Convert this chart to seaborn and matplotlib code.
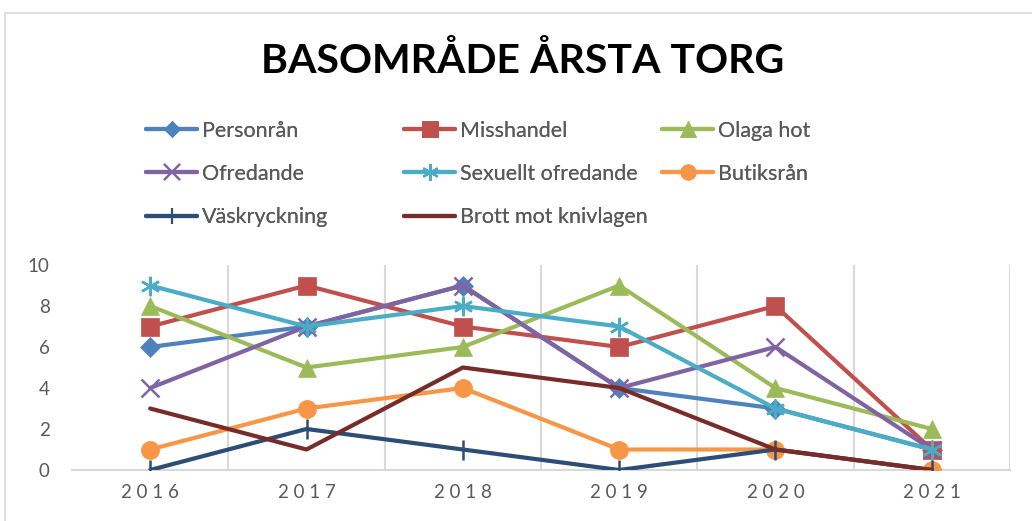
import matplotlib
matplotlib.use("Agg")
import matplotlib.pyplot as plt
from matplotlib.lines import Line2D
from matplotlib.patches import Rectangle
import numpy as np
import seaborn as sns

sns.set_style("white")
plt.rcParams["font.family"] = ["Lato", "DejaVu Sans"]

years = ["2016", "2017", "2018", "2019", "2020", "2021"]
series_names = ["Personrån", "Misshandel", "Olaga hot", "Ofredande",
                "Sexuellt ofredande", "Butiksrån", "Väskryckning",
                "Brott mot knivlagen"]
personran = [6, 7, 9, 4, 3, 1]
misshandel = [7, 9, 7, 6, 8, 1]
olaga_hot = [8, 5, 6, 9, 4, 2]
ofredande = [4, 7, 9, 4, 6, 1]
sex_ofredande = [9, 7, 8, 7, 3, 1]
butiksran = [1, 3, 4, 1, 1, 0]
vaskryckning = [0, 2, 1, 0, 1, 0]
knivlagen = [3, 1, 5, 4, 1, 0]
values = [personran, misshandel, olaga_hot, ofredande, sex_ofredande,
          butiksran, vaskryckning, knivlagen]

colors = ["#4F81BD", "#C0504D", "#9BBB59", "#8064A2", "#4BACC6",
          "#F79646", "#2C4D75", "#772C2A"]
markers = ["D", "s", "^", "x", (6, 2, 0), "o", "|", None]
msizes = [10, 13, 13, 13, 14, 13, 14, 0]
line_markers = ["x", "|", (6, 2, 0)]

fig = plt.figure(figsize=(10.32, 5.21), dpi=100)
fig.patches.append(Rectangle((5 / 1032, -0.1), 1.2, 1 - 13 / 521 + 0.1,
                             transform=fig.transFigure, fill=False,
                             edgecolor="#D9D9D9", linewidth=1.2))
ax = fig.add_axes([72 / 1032, 51 / 521, (1010 - 72) / 1032, (470 - 265) / 521])

x = np.arange(len(years))
handles = []
for name, vals, c, m, ms in zip(series_names, values, colors, markers, msizes):
    mew = 1.8 if m in line_markers else 0.5
    sns.lineplot(x=x, y=vals, ax=ax, color=c, linewidth=3.0, marker=m,
                 markersize=ms, markeredgewidth=mew,
                 markeredgecolor=c, zorder=3)
    handles.append(Line2D([], [], color=c, linewidth=3.0, marker=m,
                          markersize=ms * 0.85, markeredgecolor=c,
                          markeredgewidth=1.5 if m in line_markers else 0.5))

ax.set_xlim(-0.5, 5.5)
ax.set_ylim(0, 10)
ax.set_yticks(range(0, 11, 2))
ax.set_xticks(x)
ax.set_xticklabels([" ".join(y) for y in years])
for xv in np.arange(0.5, 6, 1):
    ax.axvline(xv, color="#D9D9D9", linewidth=1.5, zorder=0)
for s in ["top", "right", "left"]:
    ax.spines[s].set_visible(False)
ax.spines["bottom"].set_color("#D9D9D9")
ax.spines["bottom"].set_linewidth(1.5)
ax.tick_params(axis="both", length=0, labelsize=13.5, labelcolor="#595959")
ax.tick_params(axis="x", pad=10)
ax.tick_params(axis="y", pad=16)

fig.text(523 / 1032, 1 - 61 / 521, "BASOMRÅDE ÅRSTA TORG", ha="center",
         va="center", fontsize=29.5, fontweight="bold", color="#000000")

# legend: three fixed columns, row-major order as in the original
col_x = [135, 393, 651]
for ci in range(3):
    idx = [i for i in range(ci, len(series_names), 3)]
    leg = fig.legend([handles[i] for i in idx], [series_names[i] for i in idx],
                     loc="upper left",
                     bbox_to_anchor=(col_x[ci] / 1032, 1 - 110 / 521),
                     frameon=False, fontsize=15.5, handlelength=2.4,
                     handletextpad=0.2, labelspacing=1.08, borderpad=0,
                     labelcolor="#595959")
    fig.add_artist(leg)

fig.savefig("out.png", dpi=100)
